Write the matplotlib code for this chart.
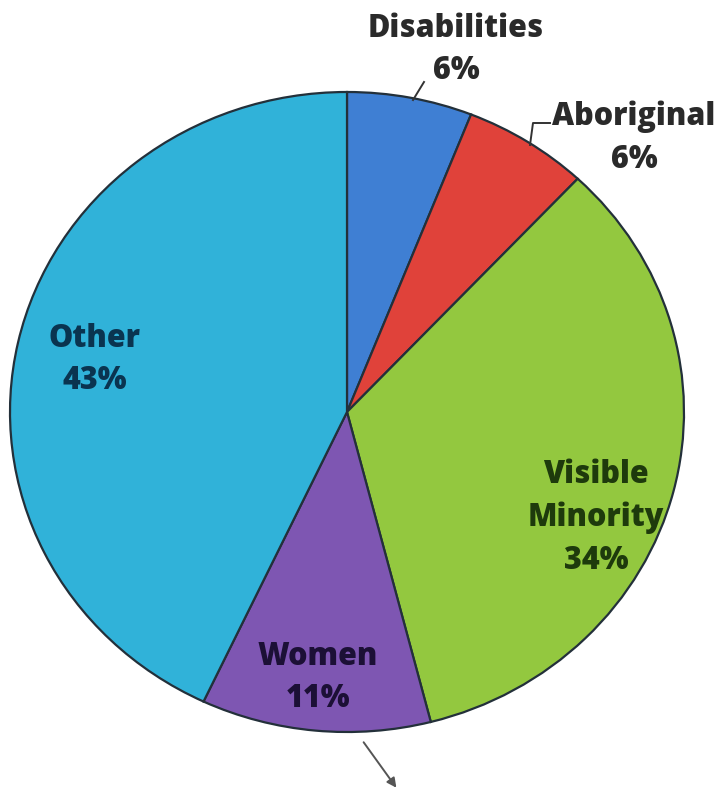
import matplotlib
matplotlib.use("Agg")
import matplotlib.pyplot as plt

categories = ["Disabilities", "Aboriginal", "Visible\nMinority", "Women", "Other"]
shares = [6, 6, 34, 11, 43]
colors = ["#3f7fd3", "#e0423a", "#93c83f", "#7e56b2", "#30b2d9"]
label_colors = ["#2a2a2a", "#2a2a2a", "#1e3a0c", "#1c1036", "#0a3450"]

W, H = 718, 793
fig = plt.figure(figsize=(W / 100, H / 100), dpi=100)
ax = fig.add_axes([0, 0, 1, 1])

wedges, _ = ax.pie(shares, colors=colors, startangle=90, counterclock=False,
                   radius=1.0, center=(0, 0),
                   wedgeprops=dict(edgecolor="#23303a", linewidth=1.6))

# slightly squashed pie: horizontal radius 337px, vertical 320px
cx, cy, rx, ry = 347, 412, 337, 320
ax.set_xlim(-cx / rx, (W - cx) / rx)
ax.set_ylim(-(H - cy) / ry, cy / ry)
ax.set_aspect("auto")
ax.axis("off")


def px(x, y):
    """Pixel position (from top-left) to data coordinates."""
    return (x - cx) / rx, (cy - y) / ry


fnt = dict(family=["Open Sans", "DejaVu Sans"], fontweight="heavy", fontsize=22,
           ha="center", va="center", linespacing=1.45)

label_pos = {
    "Disabilities": (456, 50),
    "Aboriginal": (634, 138),
    "Visible\nMinority": (596, 518),
    "Women": (318, 678),
    "Other": (95, 360),
}
for cat, val, col in zip(categories, shares, label_colors):
    ax.text(*px(*label_pos[cat]), f"{cat}\n{val}%", color=col, **fnt)

# leader lines for the outside labels
ax.plot(*zip(px(413, 100), px(424, 82)), color="#333333", lw=1.4)
ax.plot(*zip(px(530, 145), px(533, 123), px(550, 123)), color="#333333", lw=1.4)

# arrow below the pie
ax.annotate("", xy=px(398, 790), xytext=px(362, 740),
            arrowprops=dict(arrowstyle="-|>", color="#555555", lw=1.4,
                            mutation_scale=14))

fig.savefig("out.png", dpi=100, facecolor="white")
